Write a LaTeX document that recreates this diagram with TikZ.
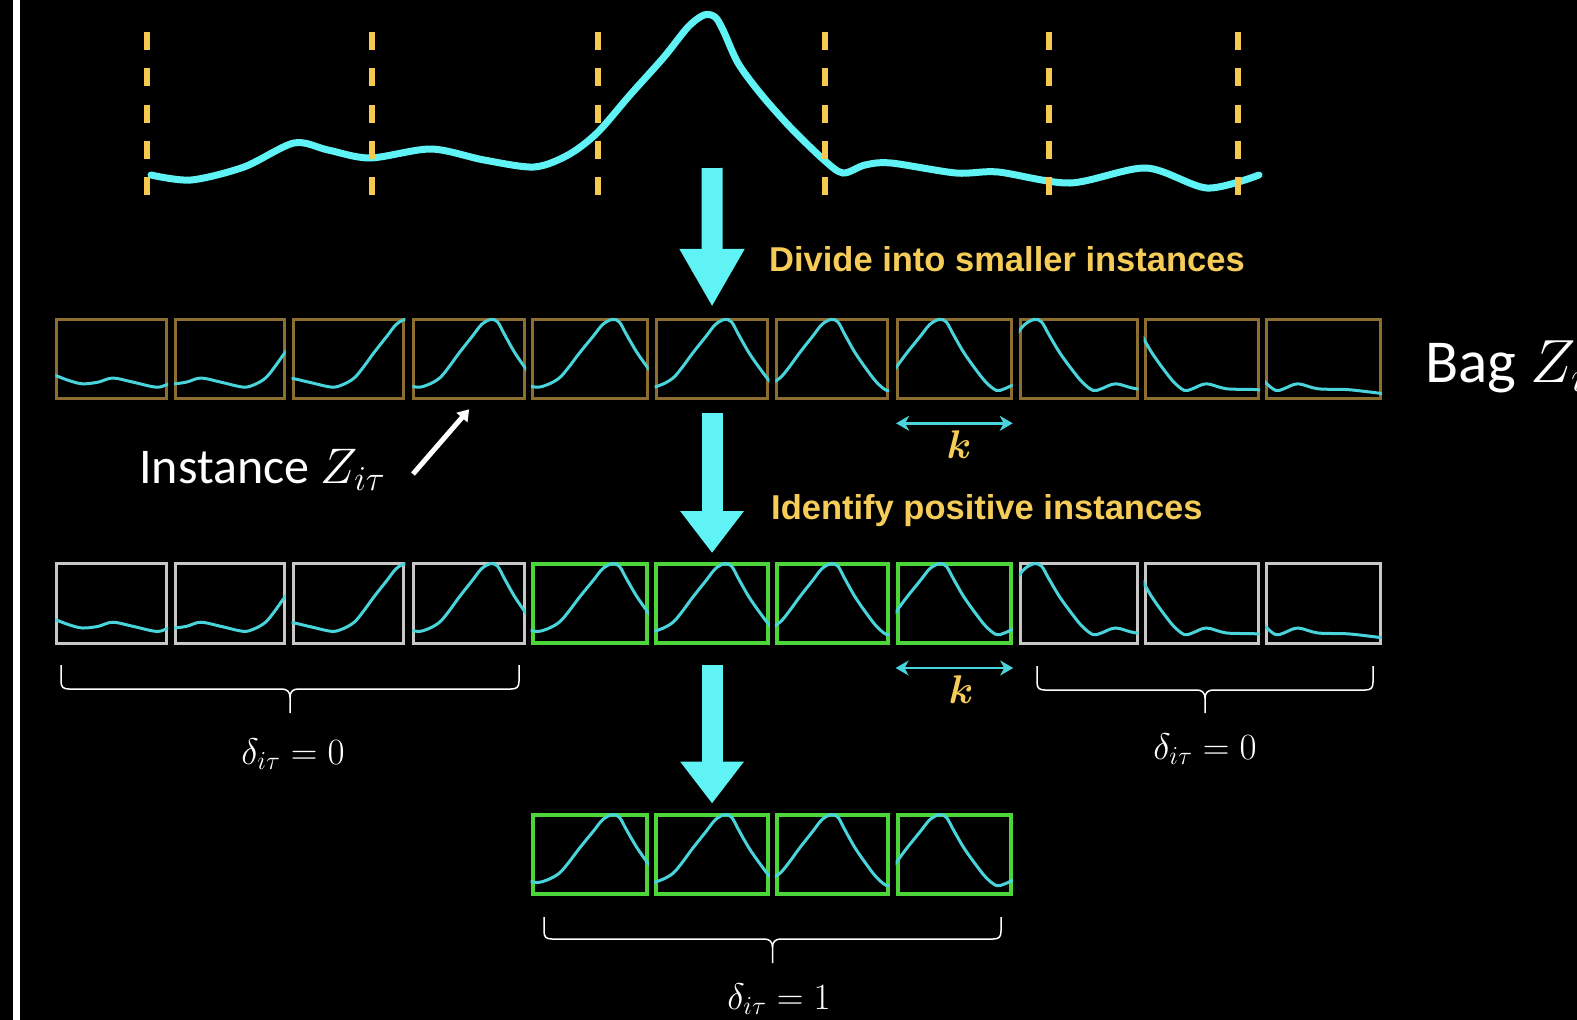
\RequirePackage{fix-cm}
\documentclass[tikz,border=0pt]{standalone}
\usepackage[no-math]{fontspec}
\setmainfont{Carlito}
\newfontfamily\stepfnt{Liberation Sans}
\usetikzlibrary{arrows.meta}
\definecolor{sigcyan}{RGB}{95,243,245}
\definecolor{boxcyan}{RGB}{72,212,218}
\definecolor{dashyel}{RGB}{247,200,78}
\definecolor{txtyel}{RGB}{246,204,88}
\definecolor{bagbrown}{RGB}{140,110,48}
\definecolor{posgreen}{RGB}{76,214,58}
\definecolor{neggrey}{RGB}{200,200,200}
\tikzset{
  bagbox/.style={draw=bagbrown, line width=3pt, inner sep=0pt},
  negbox/.style={draw=neggrey, line width=3pt, inner sep=0pt},
  posbox/.style={draw=posgreen, line width=4pt, inner sep=0pt},
  boxsig/.style={draw=boxcyan, line width=3pt},
  sigline/.style={draw=sigcyan, line width=7pt, line cap=round},
  segdash/.style={draw=dashyel, line width=6pt, dash pattern=on 18pt off 18.3pt},
  bigarrow/.style={draw=sigcyan, line width=21pt, -{Triangle[width=61pt,length=42pt]}},
  longarrow/.style={draw=sigcyan, line width=21pt, -{Triangle[width=61pt,length=58pt]}},
  kdbl/.style={draw=boxcyan, line width=2.5pt, {Stealth[length=13pt,width=15pt,inset=4pt]}-{Stealth[length=13pt,width=15pt,inset=4pt]}},
  steplab/.style={text=txtyel, inner sep=0pt, font=\stepfnt\bfseries\fontsize{34.5}{40}\selectfont},
  klab/.style={text=txtyel, inner sep=0pt, font=\fontsize{40}{48}\selectfont\boldmath},
  whitelab/.style={text=white, inner sep=0pt},
  deltalab/.style={text=white, inner sep=0pt, font=\fontsize{37}{44}\selectfont},
  bracestyle/.style={draw=white, line width=1.5pt},
  instarrow/.style={draw=white, line width=5pt, -{Triangle[width=14pt,length=11pt]}},
}
\newcommand\canoncurve{%
  \draw[boxsig] plot[smooth, tension=0.55] coordinates {
    (-1.62,0.68) (-1.54,0.70) (-1.42,0.76) (-1.30,0.80) (-1.16,0.78) (-1.03,0.73)
    (-0.85,0.78) (-0.65,0.84) (-0.55,0.81) (-0.45,0.73) (-0.37,0.60) (-0.28,0.43)
    (-0.16,0.22) (-0.08,0.08) (0,0.02) (0.06,0.05) (0.12,0.20) (0.21,0.42)
    (0.31,0.62) (0.40,0.78) (0.49,0.88) (0.56,0.86) (0.68,0.80) (0.85,0.86)
    (1.1,0.87) (1.3,0.90) (1.45,0.925) (1.6,0.93)};}
% #1 name, #2 left x, #3 right x, #4 top y, #5 peak position, #6 style
\newcommand\instbox[6]{%
  \pgfmathsetmacro\bw{#3-#2}%
  \pgfmathsetmacro\bwi{#3-#2-3}%
  \pgfmathsetmacro\px{#2+#5*(#3-#2)}%
  \node[#6, minimum width=\bwi pt, minimum height=79.5pt] (#1) at ({(#2+#3)/2},{#4+41.25}) {};
  \begin{scope}
    \clip (#1.south west) rectangle (#1.north east);
    \begin{scope}[shift={(\px,#4)}, x=\bw pt, y=-82.5pt]
      \canoncurve
    \end{scope}
  \end{scope}
}
% #1 left x, #2 right x, #3 top y, #4 horizontal y, #5 tip y
\newcommand\mybrace[5]{%
  \pgfmathsetmacro\bc{(#1+#2)/2}%
  \draw[bracestyle] (#1,#3) -- (#1,#4-8) .. controls (#1,#4-2) and (#1+2,#4) .. (#1+8,#4)
    -- (\bc-8,#4) .. controls (\bc-3,#4) and (\bc,#4+3) .. (\bc,#4+8) -- (\bc,#5);
  \draw[bracestyle] (#2,#3) -- (#2,#4-8) .. controls (#2,#4-2) and (#2-2,#4) .. (#2-8,#4)
    -- (\bc+8,#4) .. controls (\bc+3,#4) and (\bc,#4+3) .. (\bc,#4+8);
}
\def\rowlist{1/55.3/168.0/1.54/negbox, 2/174.0/285.6/1.27/negbox, 3/291.7/405.3/1.0/negbox,
  4/412.3/526.0/0.69/negbox, 5/531.0/648.7/0.69/posbox, 6/654.7/769.4/0.61/posbox,
  7/775.4/889.0/0.49/posbox, 8/896.1/1012.7/0.37/posbox, 9/1018.8/1138.5/0.13/negbox,
  10/1143.5/1260.1/-0.14/negbox, 11/1265.2/1381.8/-0.40/negbox}
\begin{document}
\begin{tikzpicture}[x=1pt, y=-1pt]
  \fill[black] (0,0) rectangle (1577,1020);
  \useasboundingbox (0,0) rectangle (1577,1020);
  \fill[white] (13,0) rectangle (20,1020);
  % long signal
  \draw[sigline] plot[smooth, tension=0.5] coordinates {
    (151,175) (191,180) (244,167) (294,143) (328,150) (370,158) (431,149)
    (484,160) (534,167) (568,155) (597,133) (630,95) (664,57) (688,27)
    (704,15) (715,17) (723,30) (738,63) (760,93) (790,127) (824,160)
    (843,173) (865,165) (891,163) (956,173) (998,172) (1070,183)
    (1146,168) (1207,188) (1259,175)};
  \foreach \x in {147,372,598,825,1049,1238}
    \draw[segdash] (\x,32) -- (\x,197);
  \coordinate (sigbase) at (712,168);
  % row 1: bag
  \foreach \i/\l/\r/\p/\s in \rowlist { \instbox{r1b\i}{\l}{\r}{317.8}{\p}{bagbox} }
  % row 2: labelled instances
  \foreach \i/\l/\r/\p/\s in \rowlist { \instbox{r2b\i}{\l}{\r}{562}{\p}{\s} }
  % row 3: positive instances
  \foreach \i/\l/\r/\p in {1/531.0/648.7/0.69, 2/654.7/769.4/0.61, 3/775.4/889.0/0.49, 4/896.1/1012.7/0.37}
    { \instbox{r3b\i}{\l}{\r}{813}{\p}{posbox} }
  % big arrows
  \draw[longarrow] (sigbase) -- ([yshift=11pt]r1b6.north);
  \draw[bigarrow] ([yshift=-13pt]r1b6.south) -- ([yshift=8.5pt]r2b6.north);
  \draw[bigarrow] ([yshift=-20pt]r2b6.south) -- ([yshift=9pt]r3b2.north);
  % step labels
  \node[steplab, anchor=base west] (divide) at (769,271) {Divide into smaller instances};
  \node[steplab, anchor=base west] (identify) at (771,519) {Identify positive instances};
  % window width k
  \draw[kdbl] ([yshift=-23pt]r1b8.south west) -- ([yshift=-23pt]r1b8.south east);
  \node[klab, anchor=base] (k1) at (959,458) {$k$};
  \draw[kdbl] ([yshift=-23pt]r2b8.south west) -- ([yshift=-23pt]r2b8.south east);
  \node[klab, anchor=base] (k2) at (961,703) {$k$};
  % bag and instance labels
  \node[whitelab, anchor=base west, font=\fontsize{61}{70}\selectfont] (bag) at (1425,382) {Bag $Z_i$};
  \node[whitelab, anchor=base west, font=\fontsize{50}{60}\selectfont] (inst) at (139,483) {Instance $Z_{i\tau}$};
  \coordinate (instTail) at (413,474);
  \draw[instarrow] (instTail) -- ([yshift=-9pt]r1b4.south);
  % braces and delta labels
  \mybrace{61}{519}{665}{689}{713}
  \mybrace{1037}{1373}{666}{690}{713}
  \mybrace{544}{1001}{917}{939}{963}
  \node[deltalab, anchor=base] (d0a) at (293,764) {$\delta_{i\tau} = 0$};
  \node[deltalab, anchor=base] (d0b) at (1205,759) {$\delta_{i\tau} = 0$};
  \node[deltalab, anchor=base] (d1) at (779,1009) {$\delta_{i\tau} = 1$};
\end{tikzpicture}
\end{document}
